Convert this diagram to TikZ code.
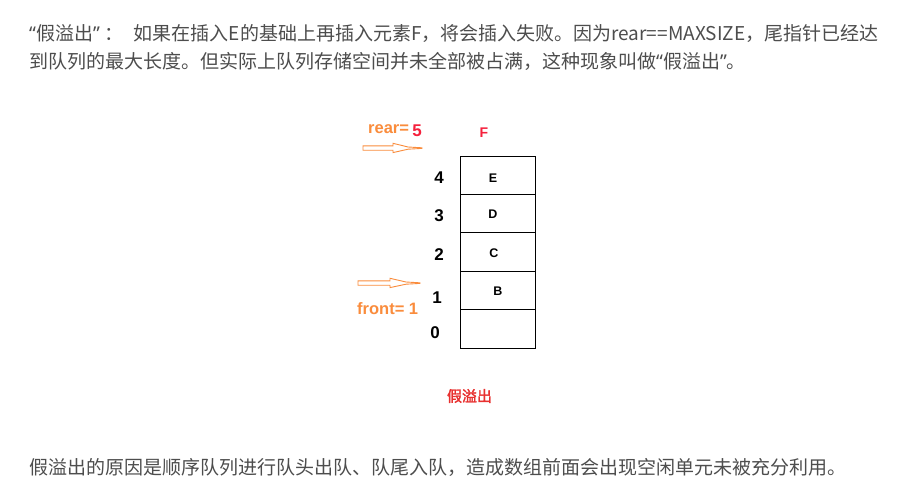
\documentclass[tikz,border=0pt]{standalone}
\usepackage{fontspec}
\setmainfont{Noto Sans}
\newfontfamily\cjk{Noto Sans CJK SC}[AutoFakeBold=2]
\newfontfamily\lab{Liberation Sans}
\newcommand{\myLQ}{{\rmfamily “}}
\newcommand{\myRQ}{{\rmfamily ”}}
\definecolor{txt}{HTML}{4D4D4D}
\definecolor{org}{HTML}{FA8C3C}
\definecolor{rd}{HTML}{F5203C}
\definecolor{rdt}{HTML}{E8302F}
\tikzset{
  para/.style={anchor=west, inner sep=0pt, text=txt, font=\cjk\fontsize{19}{19}\selectfont},
  cell/.style={draw=black, line width=1.1pt, minimum width=75pt, minimum height=38.4pt, inner sep=0pt, anchor=north west},
  idx/.style={inner sep=0pt, font=\lab\bfseries\fontsize{17}{17}\selectfont, text=black},
  letter/.style={inner sep=0pt, font=\lab\bfseries\fontsize{12.5}{12.5}\selectfont, text=black},
  olab/.style={inner sep=0pt, font=\lab\bfseries\fontsize{16.5}{16.5}\selectfont, text=org},
  blockarrow/.style={draw=org, line width=0.9pt, fill=white, line join=miter}
}
\begin{document}
\begin{tikzpicture}[x=1pt,y=-1pt]
\useasboundingbox[fill=white] (0,0) rectangle (901,492);
% paragraph text
\node[para] (l1) at (29,33) {\myLQ 假溢出\myRQ \hspace{5pt}：\hspace{10pt}如果在插入E的基础上再插入元素F，将会插入失败。因为rear==MAXSIZE，尾指针已经达};
\node[para] (l2) at (29,61) {到队列的最大长度。但实际上队列存储空间并未全部被占满，这种现象叫做\myLQ 假溢出\myRQ 。};
\node[para] (l3) at (29,467) {假溢出的原因是顺序队列进行队头出队、队尾入队，造成数组前面会出现空闲单元未被充分利用。};
% cells
\node[cell] (c4) at (460,155.5) {};
\node[cell] (c3) at (460,193.9) {};
\node[cell] (c2) at (460,232.3) {};
\node[cell] (c1) at (460,270.7) {};
\node[cell] (c0) at (460,309.1) {};
% letters
\node[letter] (e) at (493,178) {E};
\node[letter] (d) at (493,214) {D};
\node[letter] (c) at (494,253) {C};
\node[letter] (b) at (498,291) {B};
\node[inner sep=0pt, font=\lab\bfseries\fontsize{14}{14}\selectfont, text=rd] (f) at (484,133) {F};
% indices
\node[idx] (i4) at (439,178) {4};
\node[idx] (i3) at (439,216) {3};
\node[idx] (i2) at (439,255) {2};
\node[idx] (i1) at (437,298) {1};
\node[idx] (i0) at (435,333) {0};
% rear label and arrow
\node[olab, anchor=west] (rear) at (368,129.5) {rear=};
\node[inner sep=0pt, font=\lab\bfseries\fontsize{17}{17}\selectfont, text=rd] (five) at (417,131) {5};
\draw[blockarrow] (363,145.8) -- (393,145.8) -- (393,143.3) -- (408,147) -- (422,147.8) -- (422,148.4) -- (408,149.2) -- (393,152.6) -- (393,150.2) -- (363,150.2) -- cycle;
% front label and arrow
\node[olab, anchor=west] (front) at (357,309) {front= 1};
\draw[blockarrow] (358,280.8) -- (390,280.8) -- (390,278.3) -- (406,282) -- (420,282.8) -- (420,283.4) -- (406,284.2) -- (390,287.6) -- (390,285.2) -- (358,285.2) -- cycle;
% caption
\node[inner sep=0pt, text=rdt, font=\cjk\bfseries\fontsize{15}{15}\selectfont] (cap) at (469.5,396) {假溢出};
\end{tikzpicture}
\end{document}
